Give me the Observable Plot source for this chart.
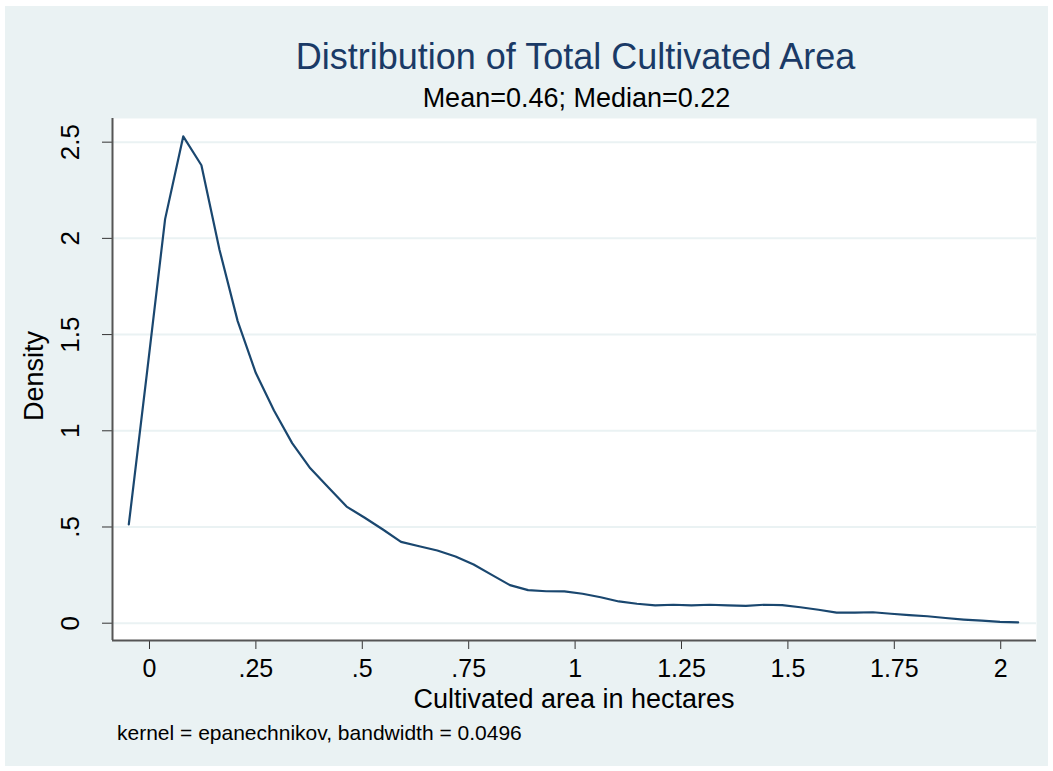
<!DOCTYPE html>
<html>
<head>
<meta charset="utf-8">
<script src="https://cdn.jsdelivr.net/npm/d3@7"></script>
<script src="https://cdn.jsdelivr.net/npm/@observablehq/plot@0.6"></script>
<style>
  body { margin: 0; background: #ffffff; font-family: "Liberation Sans", Arial, sans-serif; }
  #bg { position: absolute; left: 5px; top: 6px; width: 1043px; height: 760px; background: #EAF2F3; }
  #chart { position: absolute; left: 0; top: 0; }
  .t { position: absolute; white-space: nowrap; line-height: 1; }
  #title { left: 575.5px; top: 38.5px; font-size: 36px; color: #1A3A66; transform: translateX(-50%); }
  #subtitle { left: 576.5px; top: 85.4px; font-size: 27px; color: #000; transform: translateX(-50%); }
  #xlabel { left: 574px; top: 688.5px; font-size: 27px; line-height: 0.8; color: #000; transform: translateX(-50%); }
  #ylabel { left: 33.6px; top: 376px; font-size: 27px; color: #000; transform: translate(-50%, -50%) rotate(-90deg); }
  #caption { left: 117px; top: 722.2px; font-size: 21px; color: #000; }
</style>
</head>
<body>
<div id="bg"></div>
<div id="chart"></div>
<div class="t" id="title">Distribution of Total Cultivated Area</div>
<div class="t" id="subtitle">Mean=0.46; Median=0.22</div>
<div class="t" id="xlabel">Cultivated area in hectares</div>
<div class="t" id="ylabel">Density</div>
<div class="t" id="caption">kernel = epanechnikov, bandwidth = 0.0496</div>
<script>
// Kernel density estimate evaluation points (hectares)
const areaPoints = [-0.0486, -0.0060, 0.0367, 0.0793, 0.1220, 0.1646, 0.2072, 0.2499, 0.2925, 0.3352,
  0.3778, 0.4205, 0.4631, 0.5058, 0.5484, 0.5910, 0.6337, 0.6763, 0.7190, 0.7616,
  0.8043, 0.8469, 0.8896, 0.9322, 0.9748, 1.0175, 1.0601, 1.1028, 1.1454, 1.1881,
  1.2307, 1.2734, 1.3160, 1.3586, 1.4013, 1.4439, 1.4866, 1.5292, 1.5719, 1.6145,
  1.6572, 1.6998, 1.7424, 1.7851, 1.8277, 1.8704, 1.9130, 1.9557, 1.9983, 2.0410];
// Estimated density at each point
const densityValues = [0.513, 1.30, 2.10, 2.53, 2.38, 1.94, 1.57, 1.30, 1.105, 0.936,
  0.805, 0.705, 0.606, 0.548, 0.487, 0.423, 0.400, 0.378, 0.347, 0.305,
  0.251, 0.198, 0.172, 0.166, 0.165, 0.153, 0.135, 0.113, 0.101, 0.093,
  0.096, 0.093, 0.096, 0.093, 0.090, 0.096, 0.094, 0.083, 0.070, 0.055,
  0.055, 0.057, 0.049, 0.042, 0.036, 0.027, 0.019, 0.013, 0.007, 0.004];
const xTicks = [0, 0.25, 0.5, 0.75, 1, 1.25, 1.5, 1.75, 2];
const yTicks = [0, 0.5, 1, 1.5, 2, 2.5];

const fmt = d => (d === 0 ? "0" : String(d).replace(/^0\./, "."));
const data = areaPoints.map((x, i) => ({x, y: densityValues[i]}));

const xDomain = [-0.0869, 2.0841];
const yDomain = [-0.0899, 2.623];

const plot = Plot.plot({
  width: 1053,
  height: 771,
  marginLeft: 112,
  marginRight: 17,
  marginTop: 118,
  marginBottom: 131,
  style: {background: "transparent", fontFamily: "'Liberation Sans', Arial, sans-serif", color: "#000", overflow: "visible"},
  x: {domain: xDomain, tickFormat: fmt},
  y: {domain: yDomain, tickFormat: fmt},
  marks: [
    Plot.frame({fill: "white", stroke: null}),
    Plot.gridY(yTicks, {stroke: "#EAF2F3", strokeOpacity: 1, strokeWidth: 2}),
    Plot.line(data, {x: "x", y: "y", stroke: "#1A476F", strokeWidth: 2.2}),
    Plot.axisX(xTicks, {tickSize: 9, tickPadding: 10, fontSize: 25, stroke: "#333", fill: "#000", label: null, tickFormat: fmt}),
    Plot.axisY(yTicks, {tickSize: 10, tickPadding: 24, tickRotate: -90, fontSize: 26, stroke: "#333", fill: "#000", label: null, tickFormat: fmt}),
    Plot.ruleX([xDomain[0]], {stroke: "#555", strokeWidth: 2}),
    Plot.ruleY([yDomain[0]], {stroke: "#555", strokeWidth: 2})
  ]
});
document.getElementById("chart").appendChild(plot);
</script>
</body>
</html>
